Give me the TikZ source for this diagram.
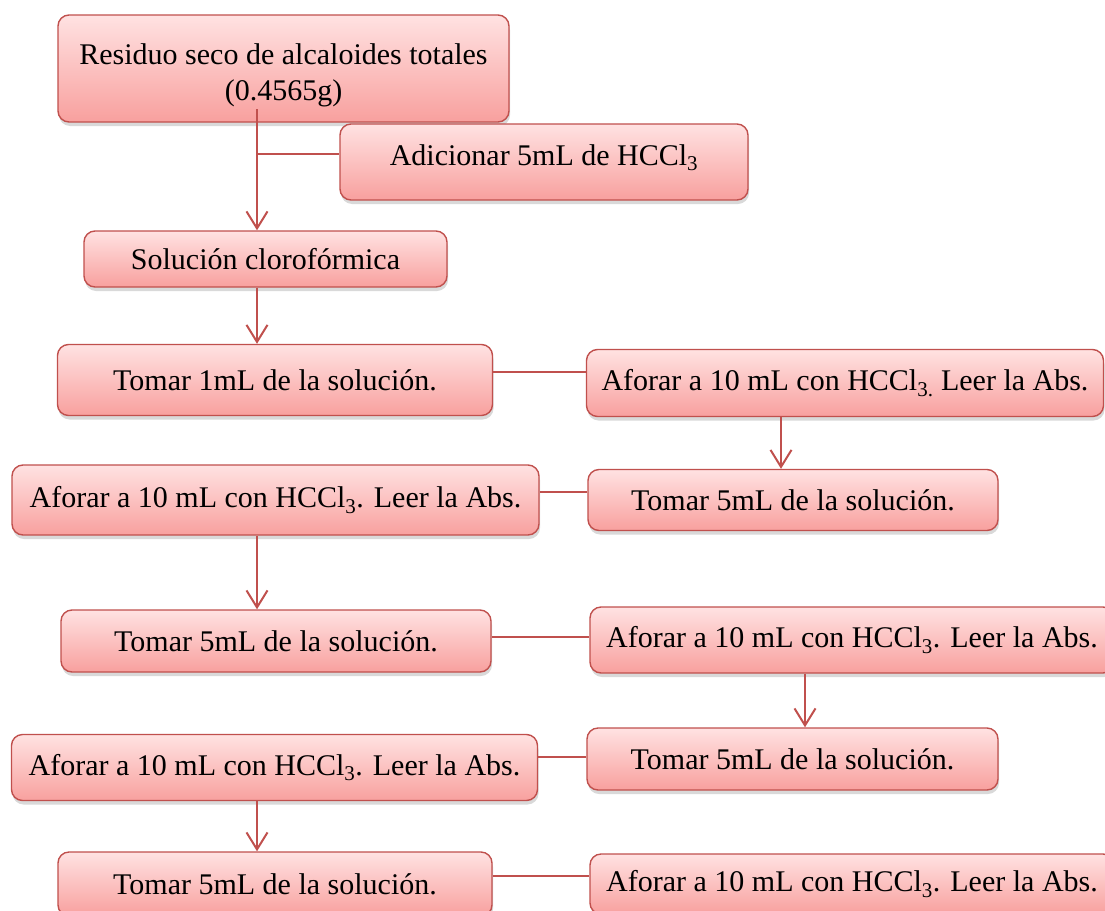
\documentclass[tikz,border=0pt]{standalone}
\usepackage{fontspec}
\setmainfont{Liberation Serif}
\usetikzlibrary{shadows,arrows.meta}
\definecolor{bord}{HTML}{C0504D}
\definecolor{ftop}{HTML}{FFE2E2}
\definecolor{fbot}{HTML}{F8A09E}
\tikzset{
  box/.style={draw=bord, line width=1.4pt, rounded corners=11pt,
    top color=ftop, bottom color=fbot,
    drop shadow={opacity=0.3, shadow xshift=1pt, shadow yshift=-4pt},
    font=\fontsize{30}{36}\selectfont, align=center, inner sep=0pt},
  conn/.style={draw=bord, line width=2pt},
  arr/.style={conn, -{Straight Barb[length=17pt,width=21pt]}}
}
\begin{document}
\begin{tikzpicture}[x=1pt,y=-1pt]
\path[use as bounding box] (0,0) rectangle (1105,910);
\clip (0,0) rectangle (1105,910);
% boxes
\node[box, minimum width=451pt, minimum height=107pt] (res) at (283.5,68.5)
  {\rule{0pt}{35pt}Residuo seco de alcaloides totales\\(0.4565g)};
\node[box, minimum width=408pt, text height=41pt, text depth=35pt] (adi) at (544,162)
  {Adicionar 5mL de HCCl\textsubscript{3}};
\node[box, minimum width=363pt, minimum height=56pt] (sol) at (265.5,259)
  {Solución clorofórmica};
\node[box, minimum width=435pt, minimum height=71pt] (t1) at (275,380)
  {Tomar 1mL de la solución.};
\node[box, minimum width=517pt, minimum height=67pt] (ar1) at (845,383)
  {Aforar a 10 mL con HCCl\textsubscript{3.} Leer la Abs.};
\node[box, minimum width=527pt, minimum height=70pt] (al1) at (275.5,500)
  {Aforar a 10 mL con HCCl\textsubscript{3}. Leer la Abs.};
\node[box, minimum width=410pt, minimum height=61pt] (tr1) at (793,500)
  {Tomar 5mL de la solución.};
\node[box, minimum width=430pt, minimum height=62pt] (tl2) at (276,641)
  {Tomar 5mL de la solución.};
\node[box, minimum width=524pt, minimum height=66pt] (ar2) at (852,640)
  {Aforar a 10 mL con HCCl\textsubscript{3}. Leer la Abs.};
\node[box, minimum width=411pt, minimum height=62pt] (tr2) at (792.5,759)
  {Tomar 5mL de la solución.};
\node[box, minimum width=526pt, minimum height=66pt] (al2) at (274.5,767.5)
  {Aforar a 10 mL con HCCl\textsubscript{3}. Leer la Abs.};
\node[box, minimum width=434pt, minimum height=64pt] (tl3) at (275,884)
  {Tomar 5mL de la solución.};
\node[box, minimum width=524pt, minimum height=60pt] (ar3) at (852,884)
  {Aforar a 10 mL con HCCl\textsubscript{3}. Leer la Abs.};
% connector coordinates
\coordinate (vx) at (257,0);
\coordinate (vr1) at (781,0);
\coordinate (vr2) at (805,0);
\coordinate (top) at (257,109);
% connectors
\draw[arr] (top) -- (top |- sol.north);
\draw[conn] (top |- adi.west) ++(0,-8) coordinate (br) -- (br -| adi.west);
\draw[arr] (sol.south -| vx) -- (t1.north -| vx);
\draw[conn] ([yshift=8pt]t1.east) -- ([yshift=8pt]t1.east -| ar1.west);
\draw[arr] (ar1.south -| vr1) -- (tr1.north -| vr1);
\draw[conn] ([yshift=8pt]al1.east) -- ([yshift=8pt]al1.east -| tr1.west);
\draw[arr] (al1.south -| vx) -- (tl2.north -| vx);
\draw[conn] ([yshift=4pt]tl2.east) -- ([yshift=4pt]tl2.east -| ar2.west);
\draw[arr] (ar2.south -| vr2) -- (tr2.north -| vr2);
\draw[conn] ([yshift=11pt]al2.east) -- ([yshift=11pt]al2.east -| tr2.west);
\draw[arr] (al2.south -| vx) -- (tl3.north -| vx);
\draw[conn] ([yshift=8pt]tl3.east) -- ([yshift=8pt]tl3.east -| ar3.west);
\end{tikzpicture}
\end{document}
